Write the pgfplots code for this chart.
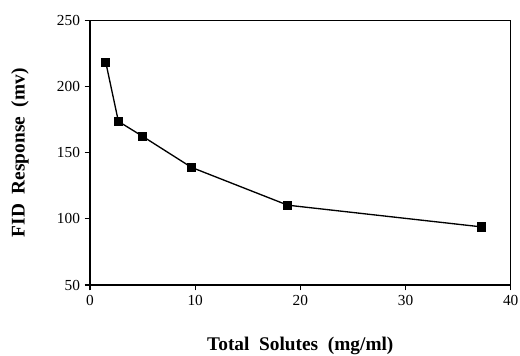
\documentclass[border=0pt]{standalone}
\usepackage{pgfplots}
\pgfplotsset{compat=1.18}
\usepackage{fontspec}
\setmainfont{Liberation Serif}
\begin{document}
\begin{tikzpicture}
\begin{axis}[
  name=ax, at={(0,0)}, anchor=south west,
  scale only axis, width=315.5pt, height=198.25pt,
  xmin=0, xmax=40, ymin=50, ymax=250,
  xtick={0,10,20,30,40}, ytick={50,100,150,200,250},
  xtick pos=left, ytick pos=left, tick align=outside,
  major tick length=4pt,
  axis line style={line width=1pt}, every tick/.style={black, line width=0.8pt},
  tick label style={font=\fontsize{11.5}{13}\selectfont},
  /pgf/number format/assume math mode=true,
  xlabel={\textbf{Total\ \ Solutes\ \ (mg/ml)}},
  ylabel={\textbf{FID\ \ Response\ \ (mv)}},
  label style={font=\fontsize{14.5}{16}\selectfont},
  xlabel style={at={(axis description cs:0.5,-0.23)}, anchor=center},
  ylabel style={at={(axis description cs:-0.1664,0.5)}, anchor=center},
]
\addplot[black, line width=1pt, mark=square*, mark size=3pt] coordinates {
  (1.5,218.5) (2.7,173.8) (5.0,162.5) (9.65,139) (18.8,110.4) (37.2,94)
};
\end{axis}
\pgfresetboundingbox
\path (-67.5pt,-52.5pt) rectangle (322.5pt,213.75pt);
\end{tikzpicture}
\end{document}
